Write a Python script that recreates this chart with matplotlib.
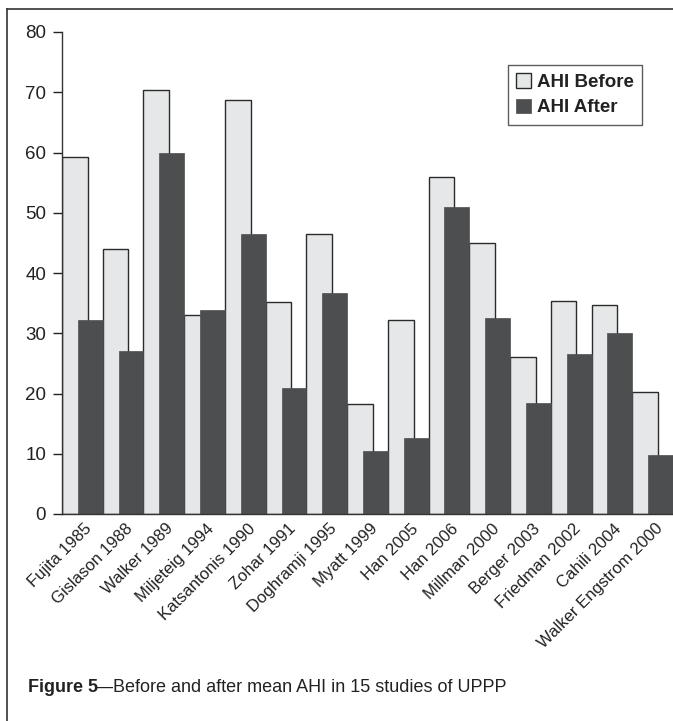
import matplotlib
matplotlib.use("Agg")
import matplotlib.pyplot as plt
from matplotlib import font_manager
import numpy as np

studies = ["Fujita 1985", "Gislason 1988", "Walker 1989", "Miljeteig 1994",
           "Katsantonis 1990", "Zohar 1991", "Doghramji 1995", "Myatt 1999",
           "Han 2005", "Han 2006", "Millman 2000", "Berger 2003",
           "Friedman 2002", "Cahili 2004", "Walker Engstrom 2000"]
ahi_before = [59.3, 44.0, 70.4, 33.0, 68.7, 35.2, 46.4, 18.2,
              32.2, 56.0, 44.9, 26.0, 35.4, 34.7, 20.3]
ahi_after = [32.2, 27.1, 60.0, 33.9, 46.4, 20.9, 36.6, 10.5,
             12.6, 50.9, 32.5, 18.5, 26.5, 30.0, 9.8]
yticks = [0, 10, 20, 30, 40, 50, 60, 70, 80]

names = {f.name for f in font_manager.fontManager.ttflist}
narrow = "Liberation Sans Narrow" if "Liberation Sans Narrow" in names else "Liberation Sans"
plt.rcParams['font.family'] = [narrow, 'DejaVu Sans']

light = "#e6e7e8"
dark = "#4d4e50"
edge = "#2b2b2b"
txt = "#222222"

fig = plt.figure(figsize=(6.73, 7.21), dpi=100)
ax = fig.add_axes([62 / 673, 207 / 721, 611 / 673, 482 / 721])

x = np.arange(len(studies))
ax.bar(x, ahi_before, width=0.63, align='edge', color=light,
       edgecolor=edge, linewidth=1.0, label="AHI Before", zorder=2)
ax.bar(x + 0.39, ahi_after, width=0.61, align='edge', color=dark,
       edgecolor=dark, linewidth=0.5, label="AHI After", zorder=3)

ax.set_xlim(0, len(studies))
ax.set_ylim(0, 80)
ax.set_yticks(yticks)
ax.tick_params(axis='y', direction='out', length=6.5, width=1.0, pad=5,
               labelsize=13.5, colors=txt)
ax.set_xticks(x + 0.55)
ax.set_xticklabels(studies, rotation=45, ha='right', va='top',
                   rotation_mode='anchor', fontsize=12, color=txt)
ax.tick_params(axis='x', length=0, pad=5)
for s in ['top', 'right']:
    ax.spines[s].set_visible(False)
for s in ['left', 'bottom']:
    ax.spines[s].set_color("#333333")
    ax.spines[s].set_linewidth(1.0)
ax.spines['bottom'].set_zorder(4)

leg = ax.legend(loc='upper left', bbox_to_anchor=((508 - 62) / 611, (514 - 65) / 482),
                frameon=True, fancybox=False, edgecolor="#333333",
                prop={'weight': 'bold', 'size': 13.5}, handlelength=0.8,
                handleheight=0.8, handletextpad=0.3, borderpad=0.45,
                labelspacing=0.4, borderaxespad=0)
leg.get_frame().set_linewidth(1.0)
for t in leg.get_texts():
    t.set_color(txt)

# outer frame lines (top and left)
fig.add_artist(plt.Line2D([7 / 673, 7 / 673], [0, 1 - 9 / 721], transform=fig.transFigure,
                          color="#333333", linewidth=1.2))
fig.add_artist(plt.Line2D([7 / 673, 1], [1 - 9 / 721, 1 - 9 / 721], transform=fig.transFigure,
                          color="#333333", linewidth=1.2))

fig.text(28 / 673, 1 - 688 / 721, "Figure 5", fontsize=13, fontweight='bold',
         va='center', ha='left', color=txt)
fig.text(95 / 673, 1 - 688 / 721, "\u2014Before and after mean AHI in 15 studies of UPPP",
         fontsize=13, va='center', ha='left', color=txt)

fig.savefig("out.png", dpi=100)
